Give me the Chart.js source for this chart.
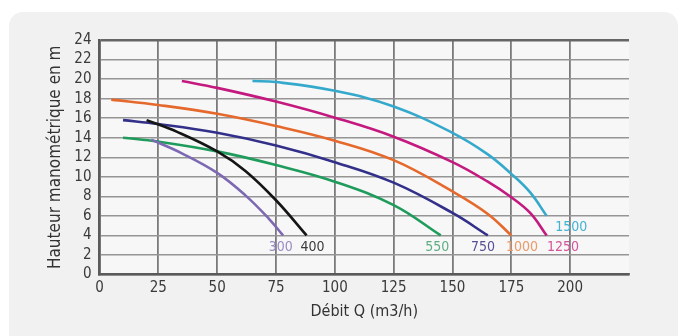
<!DOCTYPE html>
<html>
<head>
<meta charset="utf-8">
<script src="https://cdn.jsdelivr.net/npm/chart.js@4.4.1/dist/chart.umd.min.js"></script>
<style>
  html, body { margin: 0; padding: 0; background: #fff; }
  body { width: 685px; height: 336px; position: relative; overflow: hidden; }
  .card { position: absolute; left: 9px; top: 12px; width: 669px; height: 360px;
          background: #f1f1f1; border-radius: 14px; }
  #wrap { position: absolute; left: 0; top: 0; width: 685px; height: 336px; }
</style>
</head>
<body>
<div class="card"></div>
<div id="wrap"><canvas id="myChart"></canvas></div>
<script>
// Pump curves: flow Q (m3/h) vs head (m), one per model
const models = ['300', '400', '550', '750', '1000', '1250', '1500'];
const colors = ['#7d69b3', '#151515', '#1f9b5c', '#33308a', '#e5692c', '#c41a7f', '#35a9cc'];

const q300 = [22, 35, 50, 62, 72, 78];
const h300 = [13.8, 12.4, 10.4, 8.1, 5.7, 4];
const q400 = [20, 33, 50, 62, 75, 88];
const h400 = [15.8, 14.6, 12.6, 10.6, 7.6, 4];
const q550 = [10, 25, 50, 75, 100, 125, 145];
const h550 = [14.0, 13.6, 12.6, 11.2, 9.5, 7.1, 4];
const q750 = [10, 25, 50, 75, 100, 125, 150, 165];
const h750 = [15.8, 15.4, 14.5, 13.2, 11.5, 9.4, 6.3, 4];
const q1000 = [5, 25, 50, 75, 100, 125, 150, 165, 175];
const h1000 = [17.9, 17.35, 16.45, 15.2, 13.7, 11.7, 8.5, 6.2, 4];
const q1250 = [35, 50, 75, 100, 125, 150, 165, 175, 183, 190];
const h1250 = [19.8, 19.1, 17.7, 16.05, 14.1, 11.5, 9.5, 7.9, 6.3, 4];
const q1500 = [65, 75, 100, 125, 150, 165, 175, 183, 190];
const h1500 = [19.8, 19.7, 18.8, 17.2, 14.5, 12.3, 10.3, 8.4, 6];

const flows = [q300, q400, q550, q750, q1000, q1250, q1500];
const heads = [h300, h400, h550, h750, h1000, h1250, h1500];

// where each model's name is written
const labelQ = [77, 90.5, 143.5, 163, 179.5, 197, 200.5];
const labelH = [2.8, 2.8, 2.8, 2.8, 2.8, 2.8, 4.8];
const labelColors = ['#9a8cc6', '#3a3a3a', '#5fae82', '#5a4f95', '#eb9a68', '#d2569a', '#45b2d2'];

const xTicks = [0, 25, 50, 75, 100, 125, 150, 175, 200];
const yTicks = [0, 2, 4, 6, 8, 10, 12, 14, 16, 18, 20, 22, 24];

const FONT = "'DejaVu Sans Condensed', 'Liberation Sans Narrow', 'Open Sans', sans-serif";

const datasets = models.map((m, i) => ({
  label: m,
  data: flows[i].map((q, j) => ({ x: q, y: heads[i][j] })),
  borderColor: colors[i],
  borderWidth: 2.6,
  pointRadius: 0,
  showLine: true,
  fill: false,
  tension: 0.4
}));

const plotBg = {
  id: 'plotBg',
  beforeDraw(chart) {
    const { ctx, chartArea: a } = chart;
    ctx.save();
    ctx.fillStyle = '#f7f7f7';
    ctx.fillRect(a.left, a.top, a.right - a.left, a.bottom - a.top);
    ctx.restore();
  }
};

const curveLabels = {
  id: 'curveLabels',
  afterDatasetsDraw(chart) {
    const { ctx, scales: { x, y } } = chart;
    ctx.save();
    ctx.font = `14px ${FONT}`;
    ctx.textAlign = 'center';
    ctx.textBaseline = 'middle';
    models.forEach((m, i) => {
      ctx.fillStyle = labelColors[i];
      ctx.fillText(m, x.getPixelForValue(labelQ[i]), y.getPixelForValue(labelH[i]));
    });
    ctx.restore();
  }
};

new Chart(document.getElementById('myChart'), {
  type: 'scatter',
  data: { datasets },
  plugins: [plotBg, curveLabels],
  options: {
    responsive: true,
    maintainAspectRatio: false,
    animation: false,
    layout: { padding: { left: 0, right: 56, top: 40, bottom: 0 } },
    plugins: { legend: { display: false }, tooltip: { enabled: false } },
    scales: {
      x: {
        type: 'linear',
        min: 0,
        max: 225,
        afterFit(s) { s.height = 61.5; },
        afterBuildTicks(s) { s.ticks = xTicks.map(v => ({ value: v })); },
        grid: { color: '#7a7a7a', lineWidth: 1.8, drawTicks: false },
        border: { display: true, color: '#5a5a5a', width: 2.5 },
        ticks: { autoSkip: false, maxRotation: 0, color: '#3a3a3a', padding: 5, font: { size: 15, family: FONT } },
        title: {
          display: true,
          text: 'Débit Q (m3/h)',
          color: '#333',
          padding: { top: 0, bottom: 15 },
          font: { size: 16, family: FONT }
        }
      },
      y: {
        type: 'linear',
        min: 0,
        max: 24,
        afterFit(s) { s.width = 99.5; },
        afterBuildTicks(s) { s.ticks = yTicks.map(v => ({ value: v })); },
        grid: {
          color: c => c.tick && c.tick.value === 24 ? '#666' : '#959595',
          lineWidth: c => c.tick && c.tick.value === 24 ? 2.6 : 1.5,
          drawTicks: false
        },
        border: { display: true, color: '#5a5a5a', width: 2.5 },
        ticks: { autoSkip: false, color: '#3a3a3a', padding: 8, font: { size: 15, family: FONT } },
        title: {
          display: true,
          text: 'Hauteur manométrique en m',
          color: '#333',
          padding: { top: 45, bottom: 0 },
          font: { size: 17, family: FONT }
        }
      }
    }
  }
});
</script>
</body>
</html>
